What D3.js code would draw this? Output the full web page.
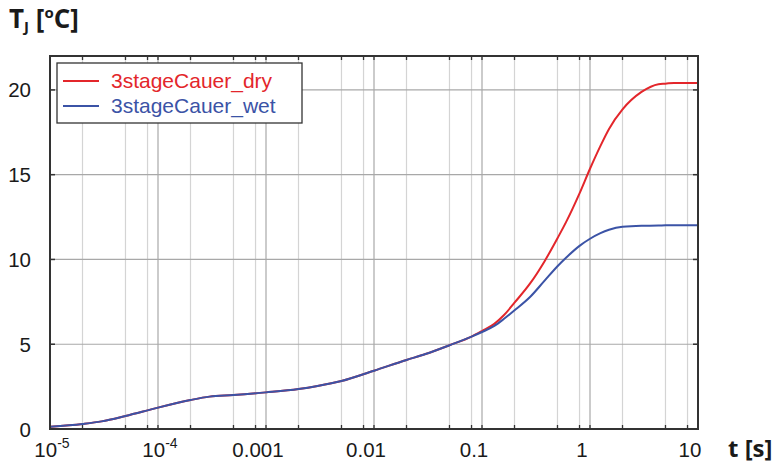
<!DOCTYPE html>
<html>
<head>
<meta charset="utf-8">
<script src="https://cdn.jsdelivr.net/npm/d3@7"></script>
<style>
  body { margin: 0; background: #fff; }
  svg { display: block; }
</style>
</head>
<body>
<svg id="chart" width="775" height="465"></svg>
<script>
// Junction temperature rise of the 3-stage Cauer models (dry vs. wet)
const timeS = [1e-5, 2e-5, 3e-5, 5e-5, 8e-5, 1e-4, 2e-4, 3e-4, 5e-4, 1e-3, 2e-3, 3e-3, 5e-3,
               1e-2, 2e-2, 3e-2, 5e-2, 8e-2, 0.1, 0.13, 0.16, 0.2, 0.28, 0.38, 0.5, 0.6, 0.8,
               1, 1.25, 1.5, 2, 3, 4.3, 5, 6, 10];
const dryTemp = [0.13, 0.30, 0.45, 0.77, 1.10, 1.26, 1.71, 1.91, 2.00, 2.16, 2.36, 2.54, 2.83,
                 3.44, 4.07, 4.42, 4.94, 5.45, 5.78, 6.2, 6.72, 7.45, 8.6, 9.9, 11.25, 12.2, 13.9,
                 15.35, 16.7, 17.7, 18.85, 19.88, 20.34, 20.37, 20.41, 20.41];
const wetTemp = [0.13, 0.30, 0.45, 0.77, 1.10, 1.26, 1.71, 1.91, 2.00, 2.16, 2.36, 2.54, 2.83,
                 3.44, 4.07, 4.42, 4.94, 5.45, 5.72, 6.08, 6.5, 7.0, 7.8, 8.75, 9.6, 10.1, 10.8,
                 11.22, 11.55, 11.75, 11.93, 11.99, 12.0, 12.02, 12.02, 12.02];

const seriesNames = ["3stageCauer_dry", "3stageCauer_wet"];
const seriesColors = ["#e3262b", "#3b53a6"];

const xTicks = [1e-5, 1e-4, 1e-3, 1e-2, 0.1, 1, 10];
const xTickLabels = ["10^-5", "10^-4", "0.001", "0.01", "0.1", "1", "10"];
const xGridMultiples = [2, 5, 8];
const yTicks = [0, 5, 10, 15, 20];
const yTickLabels = ["0", "5", "10", "15", "20"];

const svg = d3.select("#chart");
const box = { left: 50, right: 698, top: 56, bottom: 429 };

const x = d3.scaleLog().domain([1e-5, 10]).range([box.left, box.right]);
const y = d3.scaleLinear().domain([0, 22]).range([box.bottom, box.top]);

// grid positions: 2, 5, 8 within each decade, plus the decades themselves
const decades = xTicks.slice(0, -1);
const minorX = decades.flatMap(d => xGridMultiples.map(m => m * d));
const majorX = xTicks.slice(1, -1);

const grid = svg.append("g");
grid.selectAll(".gx-minor").data(minorX).join("line")
  .attr("x1", d => x(d)).attr("x2", d => x(d))
  .attr("y1", box.top).attr("y2", box.bottom)
  .attr("stroke", "#d4d4d4").attr("stroke-width", 1.2);
grid.selectAll(".gx-major").data(majorX).join("line")
  .attr("x1", d => x(d)).attr("x2", d => x(d))
  .attr("y1", box.top).attr("y2", box.bottom)
  .attr("stroke", "#a8a8a8").attr("stroke-width", 1.2);
grid.selectAll(".gy").data(yTicks.slice(1)).join("line")
  .attr("x1", box.left).attr("x2", box.right)
  .attr("y1", d => y(d)).attr("y2", d => y(d))
  .attr("stroke", "#a8a8a8").attr("stroke-width", 1.2);

// curves
const series = [dryTemp, wetTemp];
const line = d3.line()
  .x((d, i) => x(timeS[i]))
  .y(d => y(d))
  .curve(d3.curveMonotoneX);

svg.append("g").selectAll("path").data(series).join("path")
  .attr("d", d => line(d))
  .attr("fill", "none")
  .attr("stroke", (d, i) => seriesColors[i])
  .attr("stroke-width", 2);

// frame and inward ticks
const frame = svg.append("g").attr("stroke", "#333");
const allX = minorX.concat(majorX);
frame.selectAll(".tb").data(allX).join("line")
  .attr("x1", d => x(d)).attr("x2", d => x(d))
  .attr("y1", box.bottom).attr("y2", box.bottom - 4).attr("stroke-width", 1.3);
frame.selectAll(".tt").data(allX).join("line")
  .attr("x1", d => x(d)).attr("x2", d => x(d))
  .attr("y1", box.top).attr("y2", box.top + 4).attr("stroke-width", 1.3);
frame.selectAll(".tl").data(yTicks.slice(1)).join("line")
  .attr("x1", box.left).attr("x2", box.left + 5)
  .attr("y1", d => y(d)).attr("y2", d => y(d)).attr("stroke-width", 1.5);
frame.selectAll(".tr").data(yTicks.slice(1)).join("line")
  .attr("x1", box.right).attr("x2", box.right - 5)
  .attr("y1", d => y(d)).attr("y2", d => y(d)).attr("stroke-width", 1.5);
frame.append("rect")
  .attr("x", box.left).attr("y", box.top)
  .attr("width", box.right - box.left).attr("height", box.bottom - box.top)
  .attr("fill", "none").attr("stroke-width", 2);

// tick labels
const labelFont = "'Liberation Sans', Arial, sans-serif";
const xl = svg.append("g").attr("font-family", labelFont).attr("font-size", 20.5).attr("fill", "#1a1a1a");
xTicks.forEach((t, i) => {
  const lab = xTickLabels[i];
  const txt = xl.append("text").attr("y", 457).attr("text-anchor", "middle");
  if (lab.includes("^")) {
    const [base, exp] = lab.split("^");
    txt.attr("x", x(t) + 2);
    txt.append("tspan").text(base);
    txt.append("tspan").attr("font-size", 14).attr("dy", -9).text(exp);
  } else {
    txt.attr("x", x(t) - 8).text(lab);
  }
});

const yl = svg.append("g").attr("font-family", labelFont).attr("font-size", 20.5).attr("fill", "#1a1a1a");
yl.selectAll("text").data(yTicks).join("text")
  .attr("x", 31).attr("y", d => y(d) + 7.5)
  .attr("text-anchor", "end")
  .text((d, i) => yTickLabels[i]);

// axis titles
const titleFont = "'Open Sans', 'Noto Sans', sans-serif";
const yt = svg.append("text").attr("x", 9).attr("y", 28)
  .attr("font-family", titleFont).attr("font-weight", "bold").attr("font-size", 26).attr("fill", "#1a1a1a");
yt.append("tspan").text("T");
yt.append("tspan").attr("font-size", 15).attr("dy", 4).text("J");
yt.append("tspan").attr("dy", -4).text(" [");
yt.append("tspan").attr("font-size", 15).attr("dy", -10).text("o");
yt.append("tspan").attr("dy", 10).text("C]");

svg.append("text").attr("x", 728).attr("y", 457)
  .attr("font-family", titleFont).attr("font-weight", "bold").attr("font-size", 24).attr("fill", "#1a1a1a")
  .text("t [s]");

// legend
const lg = svg.append("g");
lg.append("rect").attr("x", 57).attr("y", 63).attr("width", 245).attr("height", 60)
  .attr("fill", "#fff").attr("stroke", "#333").attr("stroke-width", 1.3);
seriesNames.forEach((name, i) => {
  const ly = 81 + i * 25;
  lg.append("line").attr("x1", 63).attr("x2", 99).attr("y1", ly).attr("y2", ly)
    .attr("stroke", seriesColors[i]).attr("stroke-width", 2);
  lg.append("text").attr("x", 111).attr("y", ly + 7)
    .attr("font-family", labelFont).attr("font-size", 21).attr("fill", seriesColors[i])
    .text(name);
});
</script>
</body>
</html>
